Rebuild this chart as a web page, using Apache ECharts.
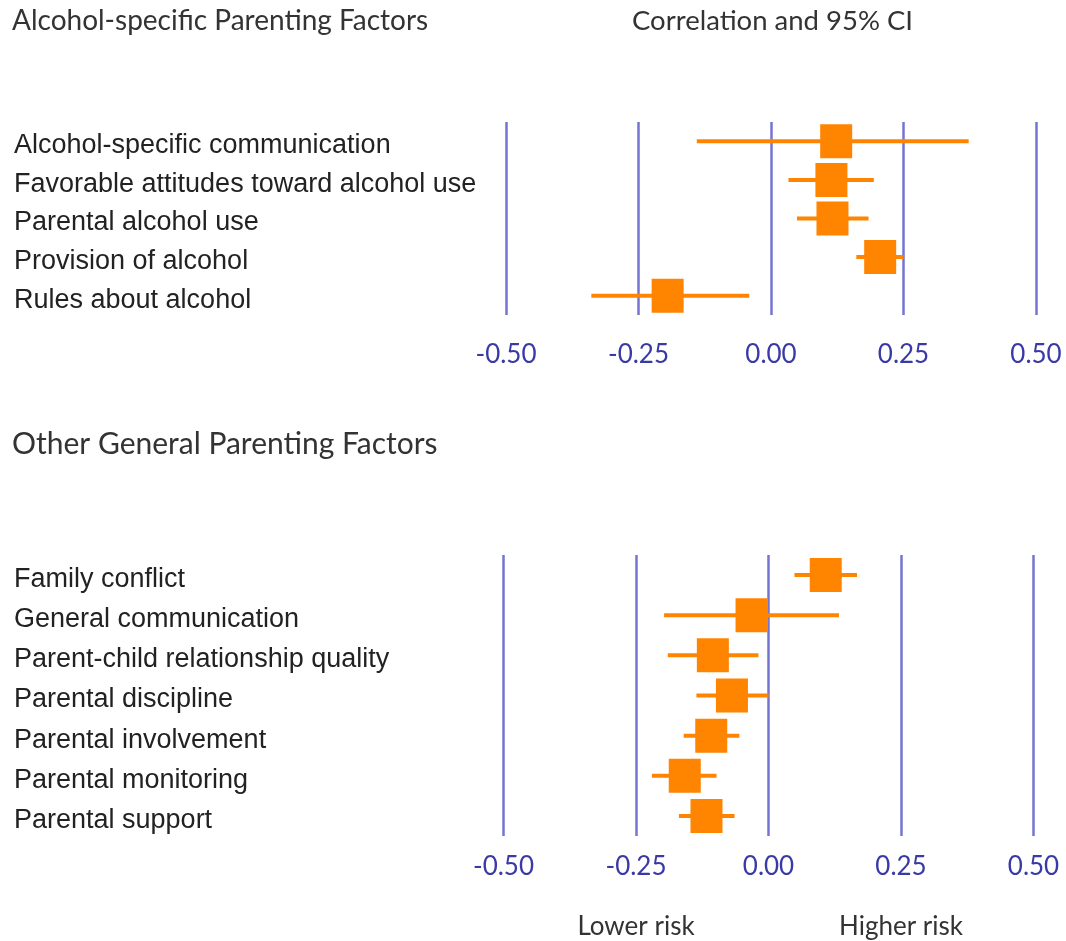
<!DOCTYPE html>
<html>
<head>
<meta charset="utf-8">
<title>Parenting factors and adolescent alcohol use</title>
<script src="https://cdn.jsdelivr.net/npm/echarts@6/dist/echarts.min.js"></script>
<style>
  html, body { margin: 0; padding: 0; background: #ffffff; }
  #chart { width: 1066px; height: 941px; }
</style>
</head>
<body>
<div id="chart"></div>
<script>
// Alcohol-specific parenting factors: correlation with 95% CI
const alcoholFactors = [
  'Alcohol-specific communication',
  'Favorable attitudes toward alcohol use',
  'Parental alcohol use',
  'Provision of alcohol',
  'Rules about alcohol'
];
const alcoholEst  = [0.123, 0.114, 0.116, 0.206, -0.195];
const alcoholLow  = [-0.140, 0.033, 0.049, 0.161, -0.339];
const alcoholHigh = [0.373, 0.194, 0.184, 0.250, -0.041];

// Other general parenting factors
const generalFactors = [
  'Family conflict',
  'General communication',
  'Parent-child relationship quality',
  'Parental discipline',
  'Parental involvement',
  'Parental monitoring',
  'Parental support'
];
const generalEst  = [0.108, -0.032, -0.105, -0.069, -0.108, -0.158, -0.117];
const generalLow  = [0.049, -0.197, -0.190, -0.136, -0.160, -0.220, -0.169];
const generalHigh = [0.167, 0.133, -0.019, 0.000, -0.055, -0.098, -0.064];

// Shared correlation scale
const axisMin = -0.5;
const axisMax = 0.5;
const axisStep = 0.25;
const riskLabels = [
  { text: 'Lower risk', at: -0.25 },
  { text: 'Higher risk', at: 0.25 }
];

const ORANGE = '#ff8400';
const GRID_BLUE = '#7474d2';
const TICK_BLUE = '#3a3aa6';
const HEAD_FONT = 'Lato';
const ROW_FONT = 'Liberation Sans';

const grids = [
  { left: 506, width: 530, top: 122, height: 193 },
  { left: 503.5, width: 530, top: 555, height: 281 }
];

function xAxisFor(gridIndex, labelMargin) {
  return {
    type: 'value', gridIndex, min: axisMin, max: axisMax, interval: axisStep,
    axisLine: { show: false }, axisTick: { show: false },
    splitLine: { show: true, lineStyle: { color: GRID_BLUE, width: 2.5 } },
    axisLabel: {
      margin: labelMargin, fontFamily: HEAD_FONT, fontSize: 26, color: TICK_BLUE,
      formatter: v => v.toFixed(2)
    }
  };
}

function yAxisFor(gridIndex, names) {
  return {
    type: 'category', gridIndex, data: names, inverse: true,
    axisLine: { show: false }, axisTick: { show: false }, splitLine: { show: false },
    axisLabel: {
      align: 'left', margin: grids[gridIndex].left - 14,
      // labels sit a few pixels below the row centre
      verticalAlign: 'top', lineHeight: 9,
      fontFamily: ROW_FONT, fontSize: 27, color: '#222222'
    }
  };
}

function ciSeries(idx, low, high) {
  return {
    type: 'custom', xAxisIndex: idx, yAxisIndex: idx, z: 3,
    encode: { x: [0, 1], y: 2 },
    data: low.map((lo, i) => [lo, high[i], i]),
    renderItem: (params, api) => {
      const a = api.coord([api.value(0), api.value(2)]);
      const b = api.coord([api.value(1), api.value(2)]);
      return {
        type: 'line',
        shape: { x1: a[0], y1: a[1], x2: b[0], y2: b[1] },
        style: { stroke: ORANGE, lineWidth: 4 }
      };
    }
  };
}

function pointSeries(idx, est) {
  return {
    type: 'scatter', xAxisIndex: idx, yAxisIndex: idx, z: 4,
    symbol: 'rect', symbolSize: [32, 34],
    itemStyle: { color: ORANGE, opacity: 1 },
    data: est.map((v, i) => [v, i])
  };
}

function headStyle(size) {
  return { fontFamily: HEAD_FONT, fontSize: size, fontWeight: 'normal', color: '#333333' };
}

const chart = echarts.init(document.getElementById('chart'), null, { renderer: 'canvas' });
chart.setOption({
  backgroundColor: '#ffffff',
  animation: false,
  title: [
    { text: 'Alcohol-specific Parenting Factors', left: 7, top: 2, textStyle: headStyle(28) },
    { text: 'Correlation and 95% CI', left: 627, top: 2, textStyle: headStyle(27.5) },
    { text: 'Other General Parenting Factors', left: 7, top: 424, textStyle: headStyle(30) }
  ],
  grid: grids,
  xAxis: [xAxisFor(0, 27), xAxisFor(1, 18)],
  yAxis: [yAxisFor(0, alcoholFactors), yAxisFor(1, generalFactors)],
  series: [
    ciSeries(0, alcoholLow, alcoholHigh),
    pointSeries(0, alcoholEst),
    ciSeries(1, generalLow, generalHigh),
    pointSeries(1, generalEst)
  ]
});

// Direction captions under the lower scale, centred on their ticks
chart.setOption({
  graphic: riskLabels.map(r => ({
    type: 'text',
    x: chart.convertToPixel({ xAxisIndex: 1 }, r.at),
    y: 927,
    style: {
      text: r.text, fontFamily: HEAD_FONT, fontSize: 26, fill: '#333333',
      textAlign: 'center', textVerticalAlign: 'middle'
    }
  }))
});
</script>
</body>
</html>
